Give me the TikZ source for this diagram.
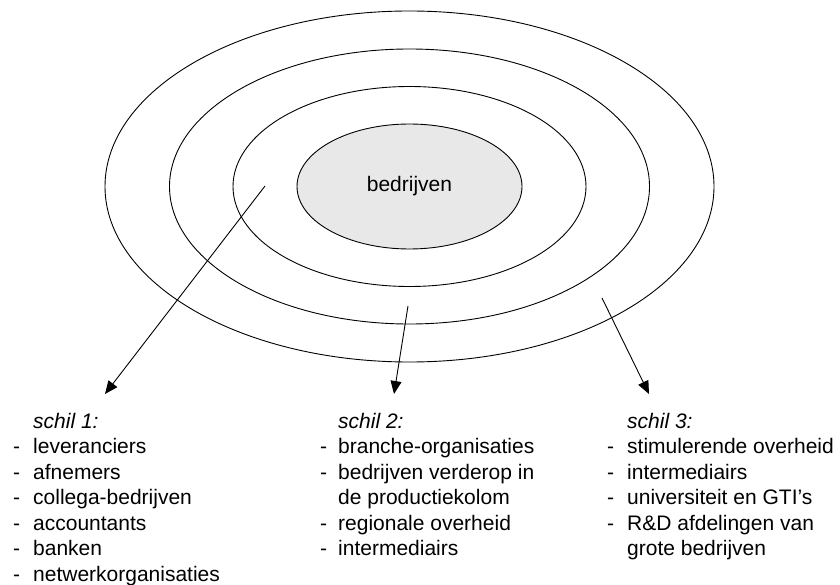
\documentclass[tikz,border=0pt]{standalone}
\usepackage{fontspec}
\setmainfont{Liberation Sans}
\usetikzlibrary{shapes.geometric,arrows.meta}

\definecolor{corefill}{RGB}{232,232,232}

\tikzset{
  ring/.style={ellipse, draw=black, line width=0.9pt, inner sep=0pt},
  core/.style={ring, fill=corefill},
  pointer/.style={line width=0.9pt, -{Triangle[length=13pt,width=11pt]}},
  shelllist/.style={anchor=base west, inner sep=0pt,
    font=\fontsize{21}{25.5}\selectfont},
}

\begin{document}
\begin{tikzpicture}[x=1pt,y=-1pt]
  \useasboundingbox (0,0) rectangle (840,585);

  % concentric shells around the firms
  \coordinate (mid) at (409.5,186.5);
  \node[ring, minimum width=609pt, minimum height=351pt] (ring3) at (mid) {};
  \node[ring, minimum width=480pt, minimum height=275pt] (ring2) at (mid) {};
  \node[ring, minimum width=353pt, minimum height=200pt] (ring1) at (mid) {};
  \node[core, minimum width=225pt, minimum height=125pt,
        font=\fontsize{21}{25.5}\selectfont] (firms) at (mid) {bedrijven};

  % arrow start points inside each shell
  \coordinate (from1) at (265,186);
  \coordinate (from2) at (408,306);
  \coordinate (from3) at (602,298);

  % lists per shell
  \node[shelllist] (list1) at (13,428) {%
    \begin{tabular}[t]{@{}p{20pt}@{}l@{}}
      & \textit{schil 1:}\\
      - & leveranciers\\
      - & afnemers\\
      - & collega-bedrijven\\
      - & accountants\\
      - & banken\\
      - & netwerkorganisaties
    \end{tabular}};
  \node[shelllist] (list2) at (320,428) {%
    \begin{tabular}[t]{@{}p{18pt}@{}l@{}}
      & \textit{schil 2:}\\
      - & branche-organisaties\\
      - & bedrijven verderop in\\
        & de productiekolom\\
      - & regionale overheid\\
      - & intermediairs
    \end{tabular}};
  \node[shelllist] (list3) at (607,428) {%
    \begin{tabular}[t]{@{}p{20pt}@{}l@{}}
      & \textit{schil 3:}\\
      - & stimulerende overheid\\
      - & intermediairs\\
      - & universiteit en GTI’s\\
      - & R\&D afdelingen van\\
        & grote bedrijven
    \end{tabular}};

  % arrow tips just above each list
  \coordinate (to1) at (105,394);
  \coordinate (to2) at (394,394);
  \coordinate (to3) at (649,394);

  \draw[pointer] (from1) -- (to1);
  \draw[pointer] (from2) -- (to2);
  \draw[pointer] (from3) -- (to3);
\end{tikzpicture}
\end{document}
